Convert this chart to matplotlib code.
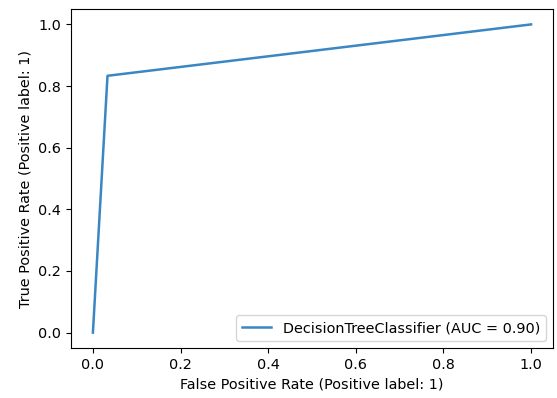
import matplotlib
matplotlib.use("Agg")
import matplotlib.pyplot as plt

# ROC points
fpr = [0.0, 0.0333, 1.0]
tpr = [0.0, 0.8333, 1.0]
auc_label = "DecisionTreeClassifier (AUC = 0.90)"

plt.rcParams['font.size'] = 10.4

fig = plt.figure(figsize=(5.57, 3.98), dpi=100)
ax = fig.add_axes([71 / 557, 1 - 348 / 398, (553 - 71) / 557, (348 - 9) / 398])
ax.plot(fpr, tpr, label=auc_label, color="#3a87c4", lw=1.8)
ax.set_xlabel("False Positive Rate (Positive label: 1)")
ax.set_ylabel("True Positive Rate (Positive label: 1)")
ax.legend(loc="lower right")

fig.savefig("out.png", dpi=100)
